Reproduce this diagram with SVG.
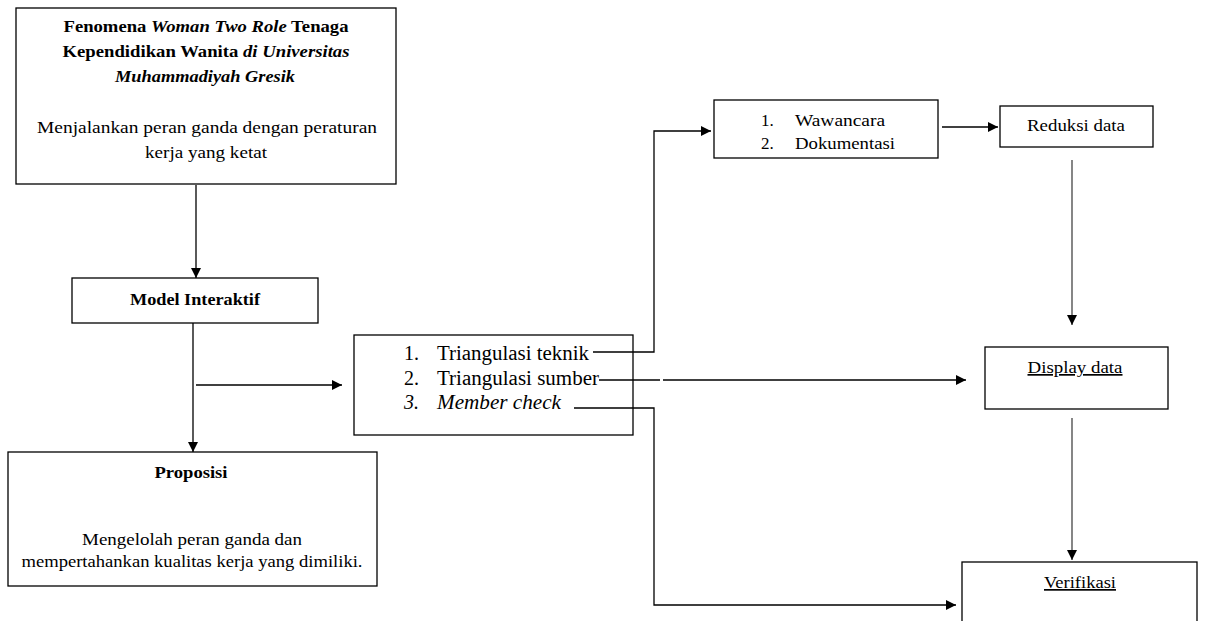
<svg xmlns="http://www.w3.org/2000/svg" width="1205" height="621" viewBox="0 0 1205 621">
<defs>
<marker id="ah" viewBox="0 0 10 10" refX="10" refY="5" markerWidth="10" markerHeight="10" markerUnits="userSpaceOnUse" orient="auto">
<path d="M0,0 L10,5 L0,10 z" fill="#000"/>
</marker>
</defs>
<style>
.box{fill:#fff;stroke:#000;stroke-width:1.3}
.t{font-family:"Liberation Serif","Times New Roman",serif;font-size:17px;fill:#000}
.b{font-weight:bold}
.i{font-style:italic}
.c{text-anchor:middle}
.l{font-size:20px}
.ln{fill:none;stroke:#000;stroke-width:1.3}
.g{stroke:#444}
.u{text-decoration:underline}
</style>
<rect width="1205" height="621" fill="#fff"/>
<g id="fenomena">
<rect class="box" x="16" y="8" width="380" height="176"/>
<text class="t b c" x="206" y="32" textLength="285" lengthAdjust="spacingAndGlyphs">Fenomena <tspan class="i">Woman Two Role</tspan> Tenaga</text>
<text class="t b c" x="206" y="57" textLength="287" lengthAdjust="spacingAndGlyphs">Kependidikan Wanita <tspan class="i">di  Universitas</tspan></text>
<text class="t b i c" x="205" y="82" textLength="180" lengthAdjust="spacingAndGlyphs">Muhammadiyah Gresik</text>
<text class="t c" x="207" y="133" textLength="340" lengthAdjust="spacingAndGlyphs">Menjalankan peran ganda dengan peraturan</text>
<text class="t c" x="206" y="158" textLength="122" lengthAdjust="spacingAndGlyphs">kerja yang ketat</text>
</g>
<g id="model">
<rect class="box" x="72" y="278" width="246" height="45"/>
<text class="t b c" x="195" y="305" textLength="130" lengthAdjust="spacingAndGlyphs">Model Interaktif</text>
</g>
<g id="proposisi">
<rect class="box" x="8" y="452" width="369" height="134"/>
<text class="t b c" x="191" y="478" textLength="73" lengthAdjust="spacingAndGlyphs">Proposisi</text>
<text class="t c" x="192" y="545" textLength="220" lengthAdjust="spacingAndGlyphs">Mengelolah peran ganda dan</text>
<text class="t c" x="192" y="567" textLength="341" lengthAdjust="spacingAndGlyphs">mempertahankan kualitas kerja yang dimiliki.</text>
</g>
<g id="triangulasi">
<rect class="box" x="354" y="335" width="279" height="100"/>
<text class="t l" x="404" y="360">1.</text>
<text class="t l" x="437" y="360" textLength="152" lengthAdjust="spacingAndGlyphs">Triangulasi teknik</text>
<text class="t l" x="404" y="385">2.</text>
<text class="t l" x="437" y="385" textLength="162" lengthAdjust="spacingAndGlyphs">Triangulasi sumber</text>
<text class="t l i" x="404" y="409">3.</text>
<text class="t l i" x="437" y="409" textLength="124" lengthAdjust="spacingAndGlyphs">Member check</text>
</g>
<g id="teknik">
<rect class="box" x="714" y="100" width="224" height="58"/>
<text class="t" x="761" y="126">1.</text>
<text class="t" x="795" y="126" textLength="90" lengthAdjust="spacingAndGlyphs">Wawancara</text>
<text class="t" x="761" y="149">2.</text>
<text class="t" x="795" y="149" textLength="100" lengthAdjust="spacingAndGlyphs">Dokumentasi</text>
</g>
<g id="reduksi">
<rect class="box" x="1000" y="106" width="153" height="41"/>
<text class="t c" x="1076" y="131" textLength="98" lengthAdjust="spacingAndGlyphs">Reduksi data</text>
</g>
<g id="display">
<rect class="box" x="985" y="347" width="183" height="62"/>
<text class="t c u" x="1075" y="373" textLength="95" lengthAdjust="spacingAndGlyphs">Display data</text>
</g>
<g id="verifikasi">
<rect class="box" x="962" y="562" width="235" height="70"/>
<text class="t c u" x="1080" y="588" textLength="72" lengthAdjust="spacingAndGlyphs">Verifikasi</text>
</g>
<g id="connectors">
<path class="ln" d="M196,185 V278" marker-end="url(#ah)"/>
<path class="ln" d="M193,323 V452" marker-end="url(#ah)"/>
<path class="ln" d="M196,385 H342" marker-end="url(#ah)"/>
<path class="ln" d="M593,352 H654 V131 H711" marker-end="url(#ah)"/>
<path class="ln" d="M599,380 H660"/>
<path class="ln" d="M663,380 H966" marker-end="url(#ah)"/>
<path class="ln" d="M574,408 H654 V605 H956" marker-end="url(#ah)"/>
<path class="ln" d="M942,127 H998" marker-end="url(#ah)"/>
<path class="ln g" d="M1072,160 V325" marker-end="url(#ah)"/>
<path class="ln g" d="M1072,418 V560" marker-end="url(#ah)"/>
</g>
</svg>
